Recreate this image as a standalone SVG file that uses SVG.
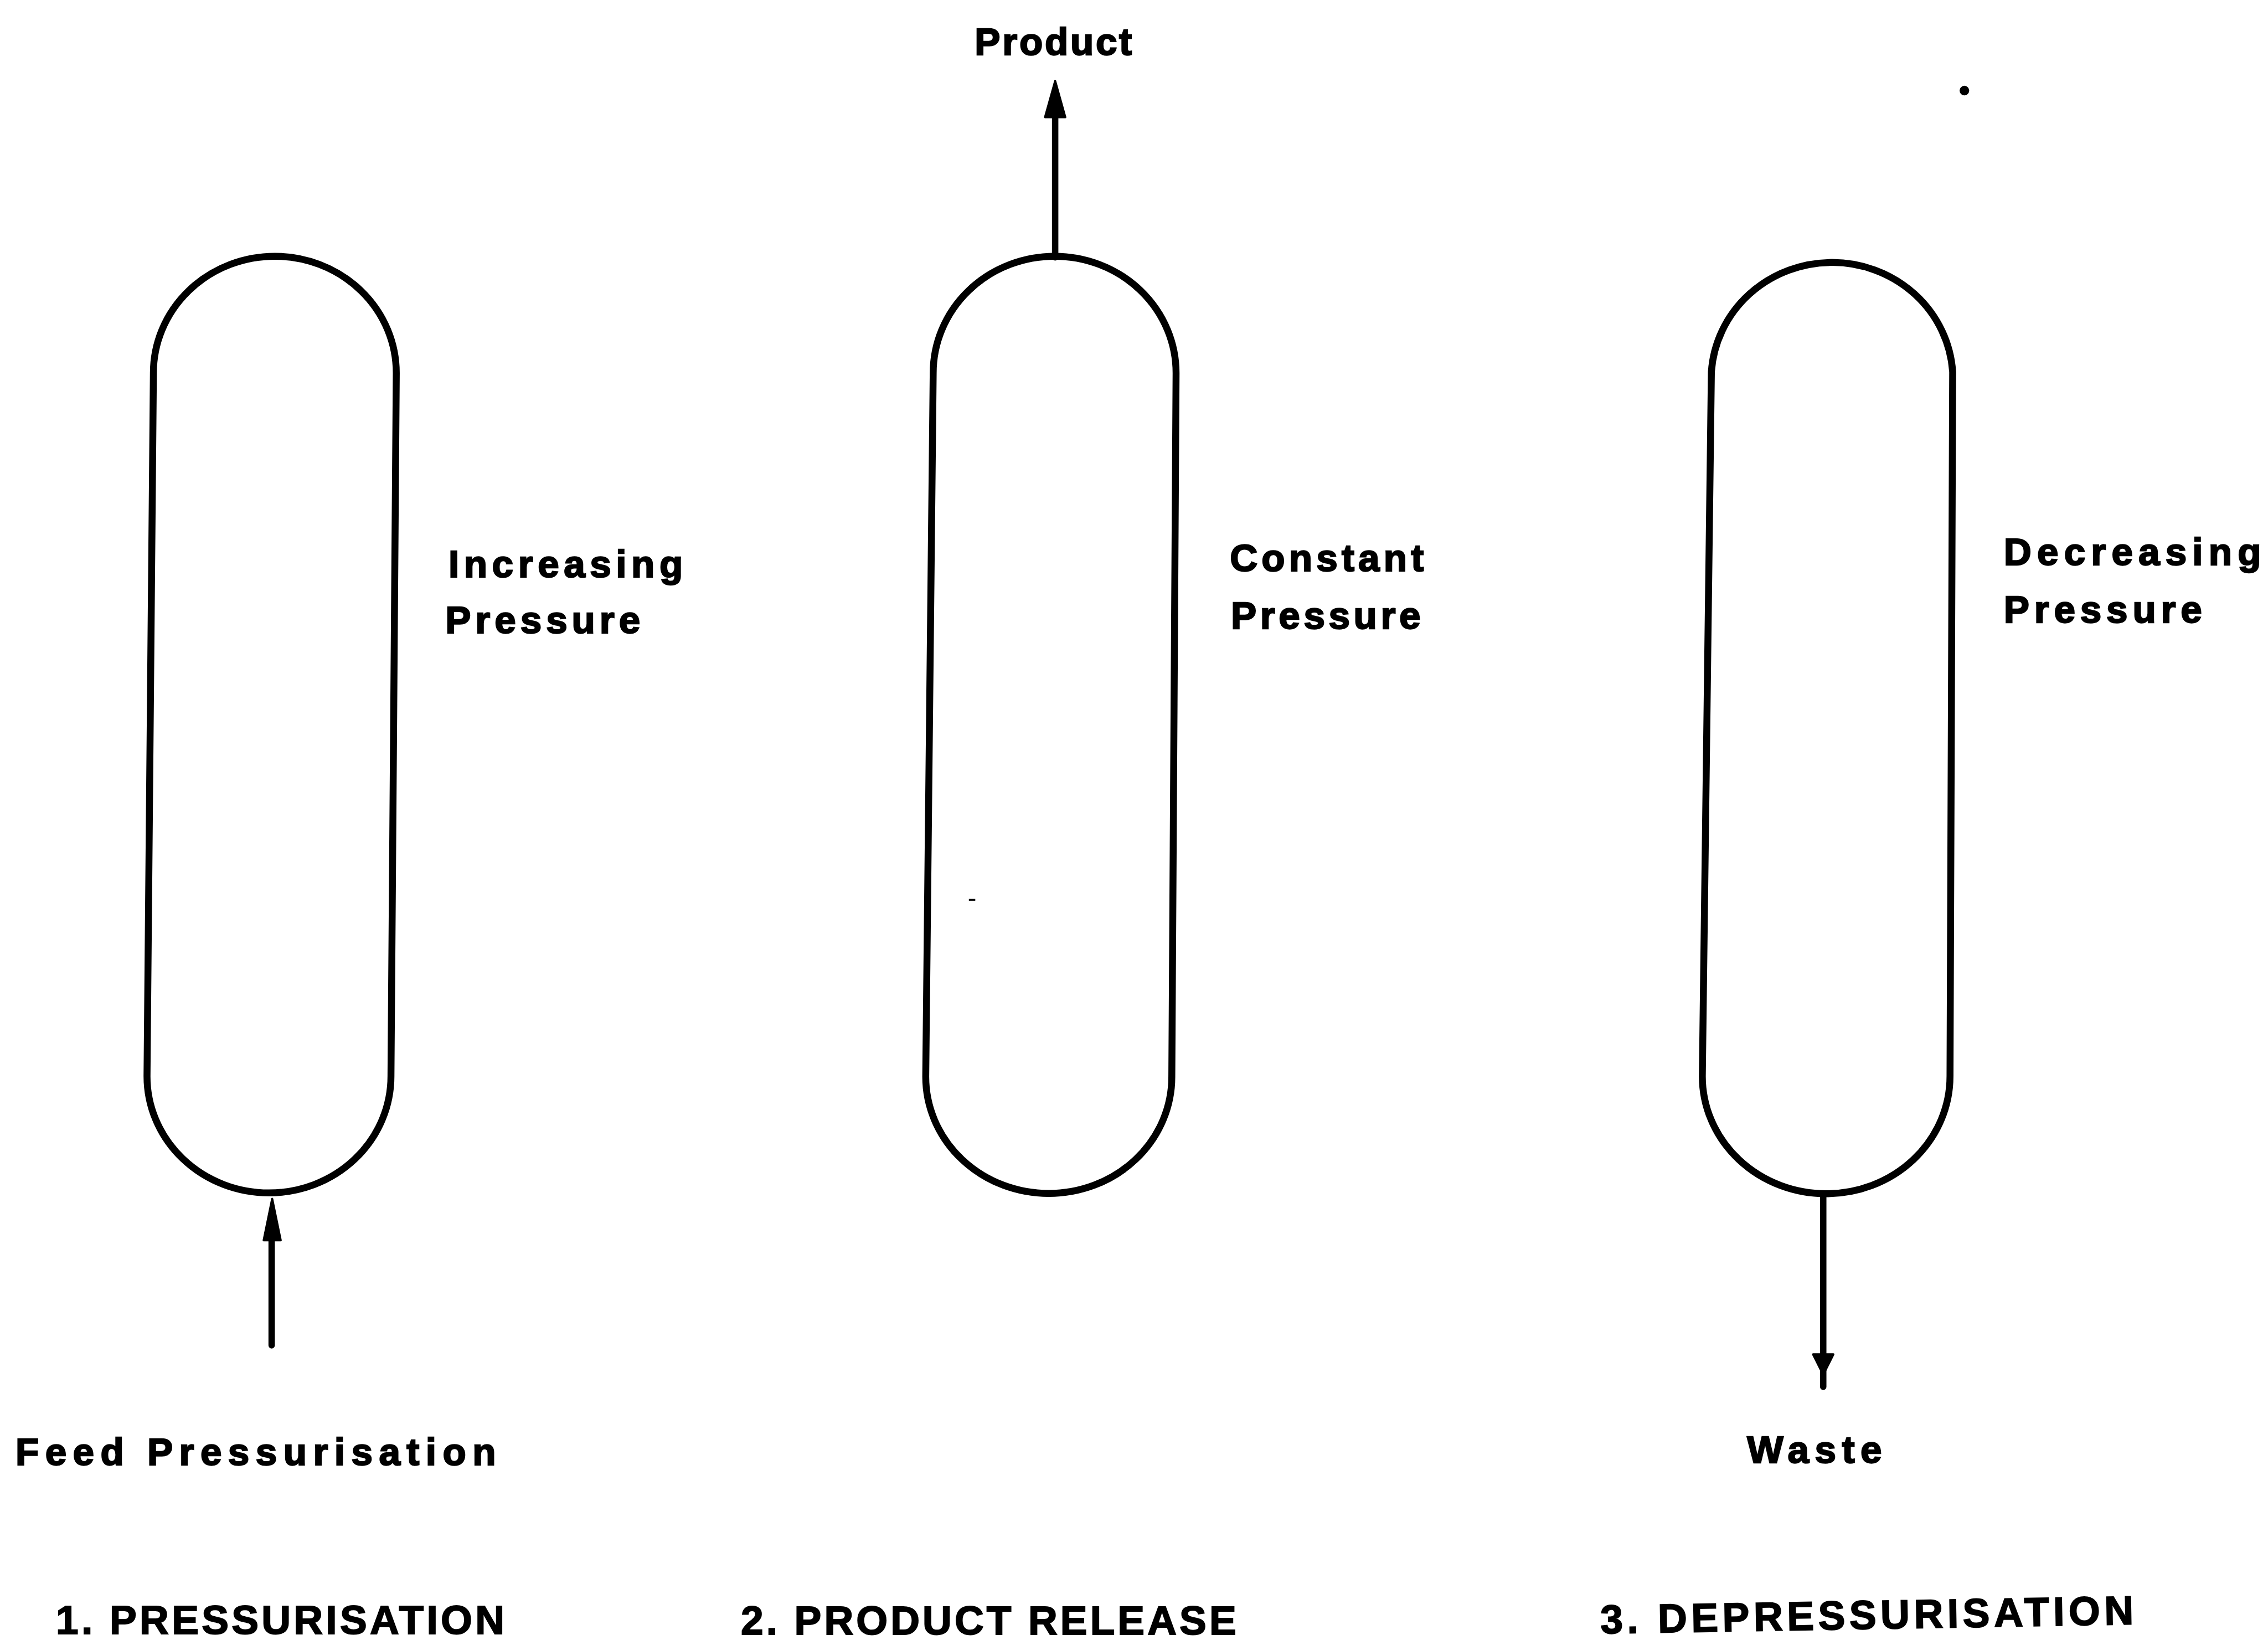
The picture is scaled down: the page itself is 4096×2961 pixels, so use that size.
<svg xmlns="http://www.w3.org/2000/svg" width="4096" height="2961" viewBox="0 0 4096 2961">
  <style>
    .vessel { fill: none; stroke: #000; stroke-width: 13; stroke-linejoin: round; }
    .pipe { fill: none; stroke: #000; stroke-width: 12; stroke-linecap: round; }
    .head { fill: #000; stroke: #000; stroke-width: 4; stroke-linejoin: round; }
    .lbl { font-family: "Liberation Sans", Arial, sans-serif; font-weight: bold; font-size: 72px; fill: #000; stroke: #000; stroke-width: 2.5; }
    .title { font-family: "Liberation Sans", Arial, sans-serif; font-weight: bold; font-size: 76px; fill: #000; stroke: #000; stroke-width: 2; }
  </style>
  <rect width="4096" height="2961" fill="#fff"/>
  <!-- drawing laid out in source units, scaled to the canvas -->
  <g transform="scale(0.96195)">
    <!-- step 1: pressurisation -->
    <g id="vessel-1">
      <path class="vessel" d="M288,700 A228,219 0 0 1 744,700 L734,2020 A229,219 0 0 1 276,2020 Z"/>
      <text class="lbl" x="842" y="1083" textLength="440" lengthAdjust="spacing">Increasing</text>
      <text class="lbl" x="836" y="1188" textLength="366" lengthAdjust="spacing">Pressure</text>
    </g>
    <g id="feed">
      <text class="lbl" x="29" y="2750" textLength="902" lengthAdjust="spacing">Feed Pressurisation</text>
    </g>
    <g id="title-1">
      <text class="title" x="105" y="3067" textLength="842" lengthAdjust="spacing">1. PRESSURISATION</text>
    </g>

    <!-- step 2: product release -->
    <g id="vessel-2">
      <path class="vessel" d="M1752,700 A228,219 0 0 1 2208,700 L2200,2021 A231,219 0 0 1 1738,2021 Z"/>
      <text class="lbl" x="2309" y="1072" textLength="364" lengthAdjust="spacing">Constant</text>
      <text class="lbl" x="2311" y="1180" textLength="356" lengthAdjust="spacing">Pressure</text>
    </g>
    <g id="product">
      <text class="lbl" x="1830" y="103" textLength="295" lengthAdjust="spacing">Product</text>
    </g>
    <g id="title-2">
      <text class="title" x="1391" y="3068" textLength="930" lengthAdjust="spacing">2. PRODUCT RELEASE</text>
    </g>

    <!-- step 3: depressurisation -->
    <g id="vessel-3">
      <path class="vessel" d="M3213,698 A227,220 0 0 1 3666,698 L3661,2020 A232,220 0 0 1 3196,2020 Z"/>
      <text class="lbl" x="3762" y="1060" textLength="483" lengthAdjust="spacing">Decreasing</text>
      <text class="lbl" x="3762" y="1168" textLength="372" lengthAdjust="spacing">Pressure</text>
    </g>
    <g id="waste">
      <text class="lbl" x="3280" y="2745" textLength="253" lengthAdjust="spacing">Waste</text>
    </g>
    <g id="title-3">
      <text class="title" x="3005" y="3066" textLength="1001" lengthAdjust="spacing" transform="rotate(-1 3005 3066)">3. DEPRESSURISATION</text>
    </g>

    <!-- flow lines -->
    <g id="connectors">
      <line class="pipe" x1="510" y1="2525" x2="510" y2="2300"/>
      <polygon class="head" points="511,2250 495,2328 527,2328"/>
      <line class="pipe" x1="1981" y1="483" x2="1981" y2="210"/>
      <polygon class="head" points="1981,152 1962,220 2000,220"/>
      <line class="pipe" x1="3423" y1="2242" x2="3423" y2="2603"/>
      <polygon class="head" points="3404,2542 3442,2542 3423,2580"/>
    </g>

    <!-- stray specks -->
    <circle cx="3688" cy="170" r="9" fill="#000"/>
    <rect x="1819" y="1687" width="12" height="4" fill="#000"/>
  </g>
</svg>
